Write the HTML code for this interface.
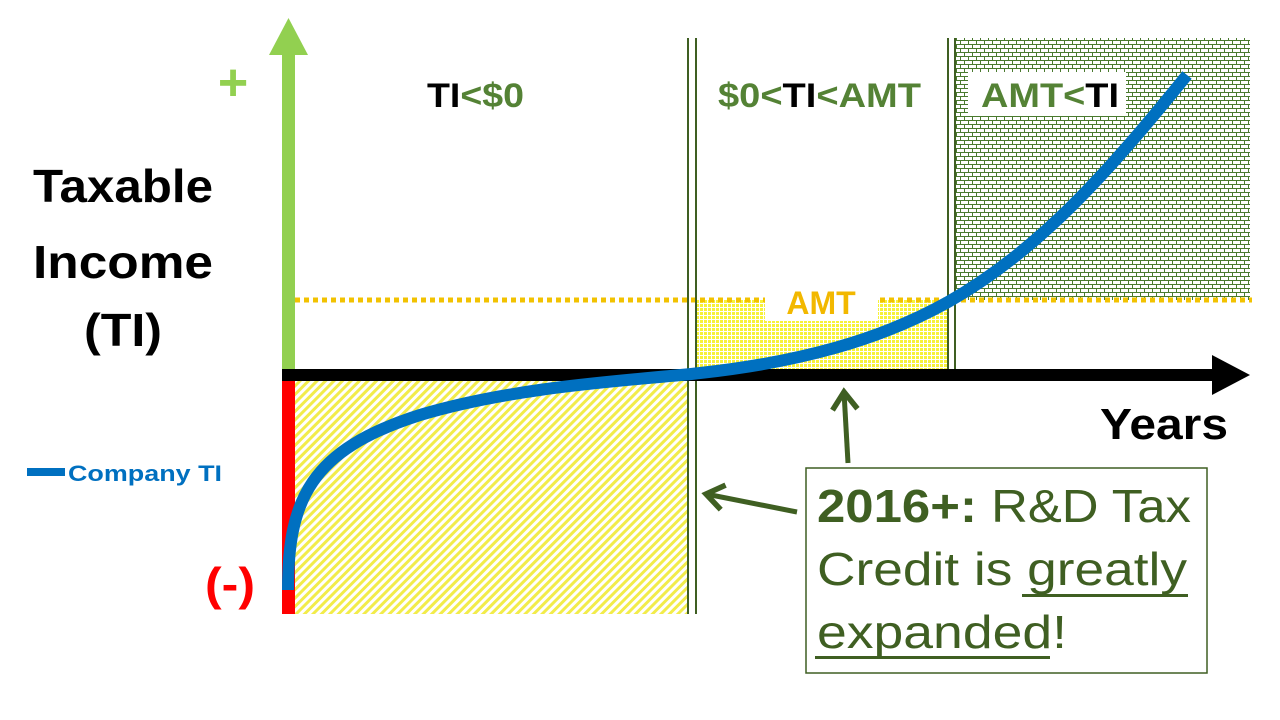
<!DOCTYPE html>
<html><head><meta charset="utf-8"><style>
html,body{margin:0;padding:0;background:#fff;}
svg{display:block;font-family:"Liberation Sans",sans-serif;}
</style></head><body>
<svg width="1280" height="720" viewBox="0 0 1280 720" xmlns="http://www.w3.org/2000/svg">
<defs>
<pattern id="diag" width="6" height="6" patternUnits="userSpaceOnUse" patternTransform="rotate(45)">
<rect width="6" height="6" fill="#fff"/><rect width="3" height="6" fill="#f2ec4a"/>
</pattern>
<pattern id="dots" width="4" height="4" patternUnits="userSpaceOnUse">
<rect width="4" height="4" fill="#fff"/><rect width="3" height="3" fill="#f7f23a"/>
</pattern>
<pattern id="brick" width="8" height="8" patternUnits="userSpaceOnUse">
<rect width="8" height="8" fill="#fff"/>
<path d="M0 0.5H8M0 4.5H8M0.5 0V4.5M4.5 4.5V8" stroke="#4a7a2e" stroke-width="1" fill="none"/>
</pattern>
<marker id="ah" markerWidth="6" markerHeight="6" refX="4" refY="3" orient="auto" markerUnits="strokeWidth">
<path d="M0.5 0.5L4 3L0.5 5.5" fill="none" stroke="#3f5f22" stroke-width="1.1"/>
</marker>
</defs>

<rect x="295" y="381" width="393" height="233" fill="url(#diag)"/>
<rect x="697" y="300" width="251" height="70" fill="url(#dots)"/>
<rect x="955" y="38" width="295" height="262" fill="url(#brick)"/>

<line x1="295" y1="300" x2="1252" y2="300" stroke="#f2c200" stroke-width="5" stroke-dasharray="5,4"/>
<rect x="765" y="283" width="113" height="38" fill="#fff"/>
<text x="821" y="314" font-size="32" font-weight="bold" fill="#f2b800" text-anchor="middle">AMT</text>

<line x1="688" y1="38" x2="688" y2="614" stroke="#3f5f22" stroke-width="2"/>
<line x1="696" y1="38" x2="696" y2="614" stroke="#3f5f22" stroke-width="2"/>
<line x1="948" y1="38" x2="948" y2="370" stroke="#3f5f22" stroke-width="2"/>
<line x1="955" y1="38" x2="955" y2="370" stroke="#3f5f22" stroke-width="2"/>

<rect x="282" y="50" width="13" height="322" fill="#92d050"/>
<polygon points="269,55 288.5,18 308,55" fill="#92d050"/>
<rect x="282" y="376" width="13" height="238" fill="#ff0000"/>
<rect x="282" y="369" width="935" height="12" fill="#000"/>
<polygon points="1212,355 1250,375 1212,395" fill="#000"/>

<path d="M288 590 C288 500 310 450 420 415 C520 385 640 380 700 373 C800 362 880 340 948 302 C1040 250 1110 170 1187 75" fill="none" stroke="#0070c0" stroke-width="12"/>

<text x="233" y="100" font-size="52" font-weight="bold" fill="#92d050" text-anchor="middle">+</text>
<text x="123" y="202" font-size="46" font-weight="bold" fill="#000" text-anchor="middle" textLength="180" lengthAdjust="spacingAndGlyphs">Taxable</text>
<text x="123" y="278" font-size="46" font-weight="bold" fill="#000" text-anchor="middle" textLength="180" lengthAdjust="spacingAndGlyphs">Income</text>
<text x="123" y="346" font-size="46" font-weight="bold" fill="#000" text-anchor="middle" textLength="78" lengthAdjust="spacingAndGlyphs">(TI)</text>
<rect x="27" y="468" width="38" height="8" fill="#0070c0"/>
<text x="68" y="481" font-size="22" font-weight="bold" fill="#0070c0" textLength="154" lengthAdjust="spacingAndGlyphs">Company TI</text>
<text x="230" y="600" font-size="46" font-weight="bold" fill="#ff0000" text-anchor="middle" textLength="50" lengthAdjust="spacingAndGlyphs">(-)</text>

<text x="427" y="107" font-size="34" font-weight="bold" textLength="97" lengthAdjust="spacingAndGlyphs"><tspan fill="#000">TI</tspan><tspan fill="#548235">&lt;$0</tspan></text>
<text x="718" y="107" font-size="34" font-weight="bold" textLength="203" lengthAdjust="spacingAndGlyphs"><tspan fill="#548235">$0&lt;</tspan><tspan fill="#000">TI</tspan><tspan fill="#548235">&lt;AMT</tspan></text>
<rect x="968" y="72" width="158" height="44" fill="#fff"/>
<text x="981" y="107" font-size="34" font-weight="bold" textLength="138" lengthAdjust="spacingAndGlyphs"><tspan fill="#548235">AMT&lt;</tspan><tspan fill="#000">TI</tspan></text>

<text x="1100" y="439" font-size="44" font-weight="bold" fill="#000" textLength="128" lengthAdjust="spacingAndGlyphs">Years</text>

<line x1="848" y1="463" x2="844" y2="392" stroke="#3f5f22" stroke-width="5" marker-end="url(#ah)"/>
<line x1="797" y1="512" x2="706" y2="494" stroke="#3f5f22" stroke-width="5" marker-end="url(#ah)"/>

<rect x="806" y="468" width="401" height="205" fill="#fff" stroke="#3f5f22" stroke-width="1.5"/>
<g fill="#3f5f22" font-size="46">
<text x="817" y="522" textLength="374" lengthAdjust="spacingAndGlyphs"><tspan font-weight="bold">2016+:</tspan> R&amp;D Tax</text>
<text x="817" y="585" textLength="370" lengthAdjust="spacingAndGlyphs">Credit is greatly</text>
<text x="817" y="648" textLength="250" lengthAdjust="spacingAndGlyphs">expanded!</text>
</g>
<rect x="1022" y="594" width="166" height="3" fill="#3f5f22"/>
<rect x="815" y="656" width="235" height="3" fill="#3f5f22"/>
</svg>
</body></html>
